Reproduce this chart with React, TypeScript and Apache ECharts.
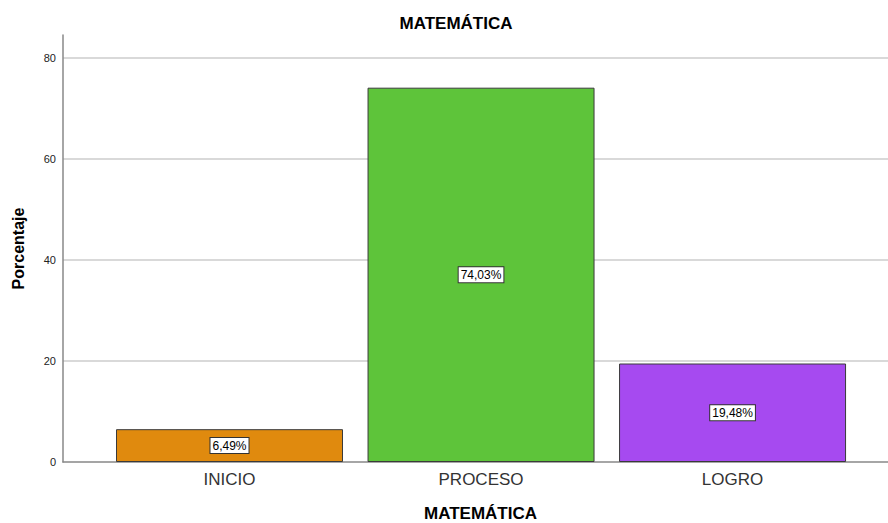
import React, { useEffect, useRef } from "react";
import * as echarts from "echarts";

const categories = ["INICIO", "PROCESO", "LOGRO"];
const values = [6.49, 74.03, 19.48];
const colors = ["#E08A0E", "#5EC43A", "#A64AF0"];
const yTicks = [0, 20, 40, 60, 80];
const title = "MATEMÁTICA";
const yName = "Porcentaje";

export default function App() {
  const ref = useRef<HTMLDivElement>(null);
  useEffect(() => {
    if (!ref.current) return;
    const chart = echarts.init(ref.current, undefined, { renderer: "svg" });
    const font = "'Liberation Sans', Arial, sans-serif";
    chart.setOption({
      animation: false,
      backgroundColor: "#ffffff",
      textStyle: { fontFamily: font },
      title: {
        text: title,
        left: 451,
        textAlign: "center",
        top: 10,
        textStyle: { fontFamily: font, fontSize: 17, fontWeight: "bold", color: "#000" },
      },
      grid: { left: 63, right: 0, top: 35, bottom: 61, containLabel: false, outerBoundsMode: "none" },
      xAxis: {
        type: "value",
        min: 0.338,
        max: 3.618,
        name: title,
        nameLocation: "middle",
        nameGap: 43,
        nameTextStyle: { fontFamily: font, fontSize: 17, fontWeight: "bold", color: "#000", padding: [0, 0, 0, 10] },
        axisLine: { show: true, lineStyle: { color: "#888", width: 1.5 } },
        axisTick: { show: false },
        splitLine: { show: false },
        axisLabel: {
          customValues: categories.map((_, i) => i + 1),
          formatter: (v: number) => categories[Math.round(v) - 1] ?? "",
          fontFamily: font,
          fontSize: 17,
          color: "#333",
          margin: 9,
        },
      },
      yAxis: {
        type: "value",
        min: 0,
        max: 84.45,
        interval: 20,
        name: yName,
        nameLocation: "middle",
        nameGap: 37,
        nameTextStyle: { fontFamily: font, fontSize: 16, fontWeight: "bold", color: "#000" },
        axisLine: { show: true, lineStyle: { color: "#888", width: 1.5 } },
        axisTick: { show: false },
        axisLabel: {
          fontFamily: font,
          fontSize: 11,
          color: "#222",
          margin: 7,
          formatter: (v: number) => (yTicks.includes(v) ? String(v) : ""),
        },
        splitLine: {
          show: true,
          lineStyle: {
            color: yTicks.map((t) => (t === 0 ? "rgba(0,0,0,0)" : "#d9d9d9")).concat(["rgba(0,0,0,0)"]),
            width: 2,
          },
        },
      },
      series: [
        {
          type: "bar",
          barWidth: 227,
          data: values.map((v, i) => ({
            value: [i + 1, v],
            itemStyle: { color: colors[i], borderColor: "#3a3a3a", borderWidth: 1 },
          })),
          label: {
            show: true,
            position: "inside",
            formatter: (p: any) => p.value[1].toFixed(2).replace(".", ",") + "%",
            fontFamily: font,
            fontSize: 12,
            color: "#000",
            backgroundColor: "#fff",
            borderColor: "#333",
            borderWidth: 1,
            padding: [2, 2, 1, 2],
          },
        },
      ],
    });
    return () => chart.dispose();
  }, []);
  return (
    <div
      ref={ref}
      style={{ position: "fixed", left: 0, top: 0, width: 888, height: 523 }}
    />
  );
}
